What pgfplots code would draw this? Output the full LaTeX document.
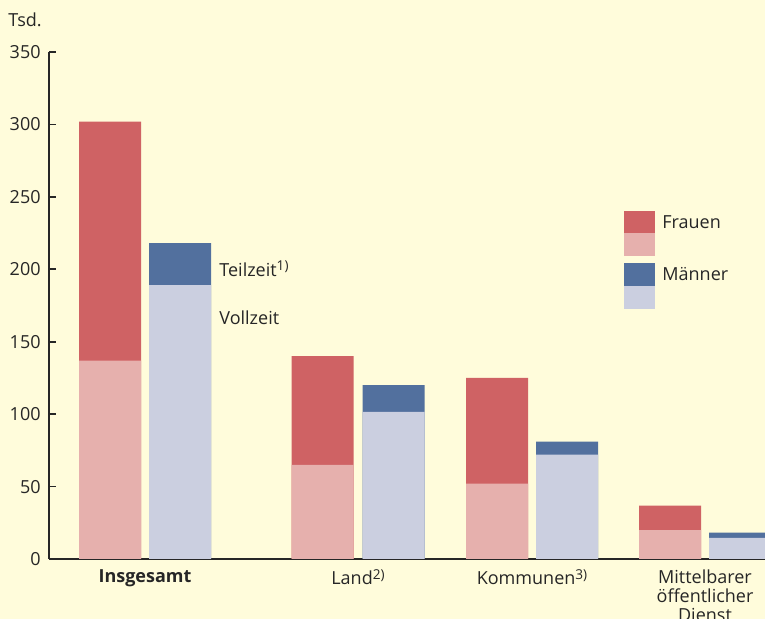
\documentclass[border=0pt]{standalone}
\usepackage{fontspec}
\setmainfont{Open Sans}
\usepackage{pgfplots}
\pgfplotsset{compat=1.18}
\definecolor{bg}{RGB}{255,252,219}
\definecolor{fdark}{RGB}{207,98,100}
\definecolor{flight}{RGB}{230,176,173}
\definecolor{mdark}{RGB}{82,112,158}
\definecolor{mlight}{RGB}{203,207,224}
\newcommand{\sups}[1]{\raisebox{0.55ex}{\fontsize{6.8}{6.8}\selectfont #1}}
\begin{document}
\begin{tikzpicture}
\fill[bg] (0,0) rectangle (382.5pt,309.5pt);
\node[anchor=west, inner sep=0pt, font=\fontsize{9}{10.5}\selectfont, text=black!85] at (4pt,299.5pt) {Tsd.};
\begin{axis}[
  at={(24.5pt,30pt)}, anchor=south west,
  scale only axis, width=358pt, height=253.5pt,
  xmin=49, xmax=765, ymin=0, ymax=350,
  axis x line=bottom, axis y line=left,
  axis line style={-, line width=0.9pt, black!85},
  ytick distance=50, tick align=inside, major tick length=3.5pt,
  y tick style={line width=0.9pt, black!85},
  xtick={145,358,532,705},
  xticklabels={\textbf{Insgesamt}, Land\sups{2)}, Kommunen\sups{3)}, {Mittelbarer\\öffentlicher\\Dienst}},
  x tick style={draw=none},
  /pgf/number format/assume math mode=true,
  tick label style={font=\fontsize{9}{9.5}\selectfont, text=black!85},
  yticklabel style={inner sep=0pt, xshift=-4pt},
  xticklabel style={inner sep=0pt, align=center, anchor=north, yshift=-5pt},
]
\addplot[ybar, bar width=62, bar shift=0pt, fill=fdark, draw=none] coordinates {(110,302) (322.5,140) (497,125) (670,36.8)};
\addplot[ybar, bar width=62, bar shift=0pt, fill=flight, draw=none] coordinates {(110,137) (322.5,65) (497,52) (670,20)};
\addplot[ybar, bar width=62, bar shift=0pt, fill=mdark, draw=none] coordinates {(180,218) (393.5,120) (567,81) (740,18.2)};
\addplot[ybar, bar width=62, bar shift=0pt, fill=mlight, draw=none] coordinates {(180,189) (393.5,101.5) (567,72) (740,14.5)};
\fill[fdark] (axis cs:624,240.3) rectangle (axis cs:655,225.1);
\fill[flight] (axis cs:624,225.1) rectangle (axis cs:655,209.3);
\fill[mdark] (axis cs:624,204.4) rectangle (axis cs:655,188.5);
\fill[mlight] (axis cs:624,188.5) rectangle (axis cs:655,172.7);
\node[anchor=west, inner sep=0pt, font=\fontsize{9}{10.5}\selectfont, text=black!85] at (axis cs:662,232.7) {Frauen};
\node[anchor=west, inner sep=0pt, font=\fontsize{9}{10.5}\selectfont, text=black!85] at (axis cs:662,196.8) {Männer};
\node[anchor=west, inner sep=0pt, font=\fontsize{9}{10.5}\selectfont, text=black!85] at (axis cs:219,200.3) {Teilzeit\sups{1)}};
\node[anchor=west, inner sep=0pt, font=\fontsize{9}{10.5}\selectfont, text=black!85] at (axis cs:219,166.4) {Vollzeit};
\end{axis}
\pgfresetboundingbox
\useasboundingbox (0,0) rectangle (382.5pt,309.5pt);
\end{tikzpicture}
\end{document}
